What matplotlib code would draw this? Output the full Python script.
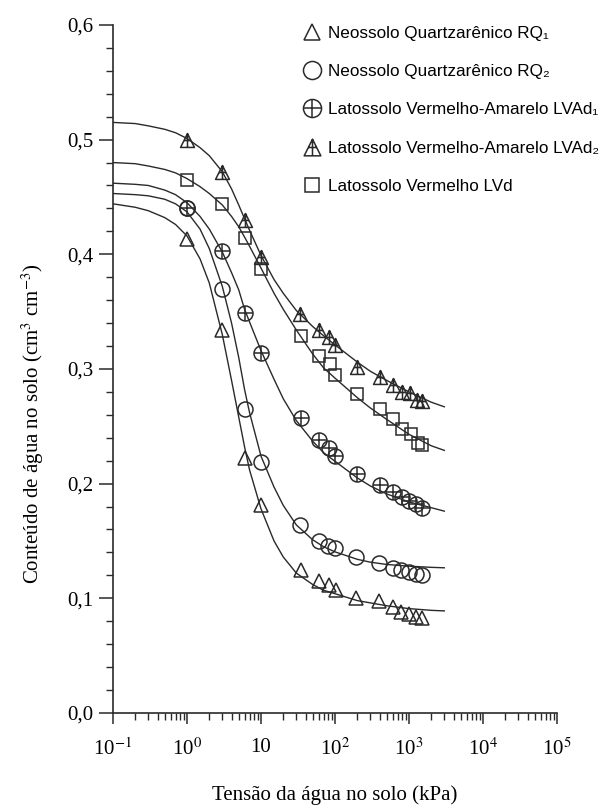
import matplotlib
matplotlib.use('Agg')
import matplotlib.pyplot as plt
from matplotlib.lines import Line2D
from matplotlib.path import Path

# valores
curve_kpa = [0.1, 0.2, 0.3, 0.5, 0.7, 1, 1.5, 2, 3, 4, 5, 6, 7, 10, 15, 20, 30,
             50, 70, 100, 200, 300, 500, 1000, 2000, 3000]

rq1_curve = [0.444, 0.441, 0.438, 0.432, 0.426, 0.416, 0.396, 0.375, 0.330, 0.290,
             0.258, 0.232, 0.212, 0.178, 0.150, 0.136, 0.122, 0.112, 0.107, 0.104,
             0.098, 0.096, 0.0935, 0.091, 0.0895, 0.089]
rq2_curve = [0.453, 0.452, 0.451, 0.448, 0.444, 0.437, 0.422, 0.405, 0.372, 0.340,
             0.310, 0.282, 0.262, 0.224, 0.197, 0.181, 0.164, 0.151, 0.145, 0.1405,
             0.134, 0.1315, 0.1295, 0.128, 0.127, 0.1266]
lvad1_curve = [0.462, 0.461, 0.460, 0.456, 0.452, 0.445, 0.433, 0.422, 0.402, 0.384,
               0.369, 0.352, 0.341, 0.316, 0.291, 0.274, 0.255, 0.237, 0.227, 0.2195,
               0.205, 0.198, 0.191, 0.184, 0.179, 0.176]
lvad2_curve = [0.515, 0.514, 0.512, 0.509, 0.506, 0.501, 0.493, 0.486, 0.472, 0.457,
               0.443, 0.431, 0.421, 0.399, 0.378, 0.366, 0.351, 0.337, 0.329, 0.321,
               0.306, 0.298, 0.290, 0.280, 0.271, 0.267]
lvd_curve = [0.480, 0.479, 0.477, 0.474, 0.471, 0.466, 0.459, 0.453, 0.443, 0.433,
             0.424, 0.415, 0.407, 0.388, 0.366, 0.352, 0.334, 0.313, 0.301, 0.292,
             0.275, 0.266, 0.256, 0.243, 0.233, 0.229]

rq1_x = [1, 3, 6, 10, 35, 60, 84, 102, 195, 398, 603, 777, 1000, 1245, 1480]
rq1_y = [0.413, 0.334, 0.222, 0.181, 0.125, 0.115, 0.1115, 0.107, 0.100, 0.098,
         0.092, 0.088, 0.0865, 0.084, 0.0825]
rq2_x = [1, 3, 6, 10, 34, 60, 81, 101, 195, 398, 603, 777, 1000, 1245, 1480]
rq2_y = [0.440, 0.370, 0.265, 0.219, 0.164, 0.150, 0.146, 0.144, 0.136, 0.131,
         0.1266, 0.1246, 0.1228, 0.121, 0.120]
lvad1_x = [1, 3, 6, 10, 35, 61, 83, 100, 197, 406, 612, 800, 1000, 1250, 1500]
lvad1_y = [0.440, 0.4025, 0.349, 0.314, 0.257, 0.238, 0.231, 0.224, 0.208, 0.199,
           0.193, 0.188, 0.185, 0.182, 0.179]
lvad2_x = [1, 3, 6, 10, 34, 60, 82, 100, 197, 406, 612, 797, 1040, 1265, 1520]
lvad2_y = [0.500, 0.472, 0.430, 0.398, 0.348, 0.334, 0.3275, 0.3206, 0.302, 0.2927,
           0.286, 0.280, 0.279, 0.273, 0.272]
lvd_x = [1, 3, 6, 10, 35, 61, 85, 101, 197, 406, 612, 815, 1050, 1330, 1520]
lvd_y = [0.465, 0.444, 0.4146, 0.387, 0.329, 0.311, 0.304, 0.295, 0.278, 0.2654,
         0.256, 0.2477, 0.2433, 0.2355, 0.2335]

labels = ['Neossolo Quartzarênico RQ₁', 'Neossolo Quartzarênico RQ₂',
          'Latossolo Vermelho-Amarelo LVAd₁', 'Latossolo Vermelho-Amarelo LVAd₂',
          'Latossolo Vermelho LVd']

xticks = [0.1, 1, 10, 100, 1000, 10000, 100000]
xticklabels = ['10$^{-1}$', '10$^{0}$', '10', '10$^{2}$', '10$^{3}$', '10$^{4}$', '10$^{5}$']
yticks = [0.0, 0.1, 0.2, 0.3, 0.4, 0.5, 0.6]
yticklabels = ['0,0', '0,1', '0,2', '0,3', '0,4', '0,5', '0,6']

plt.rcParams['font.family'] = ['Liberation Serif', 'DejaVu Serif']
plt.rcParams['mathtext.fontset'] = 'stix'

# triangulo com cruz
tri_cross = Path([(0, 1), (-1, -1), (1, -1), (0, 1), (0, 1), (0, -1), (-0.5, 0), (0.5, 0)],
                 [Path.MOVETO, Path.LINETO, Path.LINETO, Path.CLOSEPOLY,
                  Path.MOVETO, Path.LINETO, Path.MOVETO, Path.LINETO])

fig = plt.figure(figsize=(6.03, 8.10), dpi=100)
ax = fig.add_axes([0.1874, 0.1198, 0.7363, 0.8494])

ink = '#2a2a2a'
ax.plot(curve_kpa, rq1_curve, color=ink, lw=1.0)
ax.plot(curve_kpa, rq2_curve, color=ink, lw=1.0)
ax.plot(curve_kpa, lvad1_curve, color=ink, lw=1.0)
ax.plot(curve_kpa, lvad2_curve, color=ink, lw=1.0)
ax.plot(curve_kpa, lvd_curve, color=ink, lw=1.0)

mk = dict(ls='none', mfc='none', mec=ink, mew=1.1)
ax.plot(rq1_x, rq1_y, marker='^', ms=10, **mk)
ax.plot(rq2_x, rq2_y, marker='o', ms=10.8, **mk)
ax.plot(lvad1_x, lvad1_y, marker='o', ms=10.8, **mk)
ax.plot(lvad1_x, lvad1_y, marker='+', ms=10.8, **mk)
ax.plot(lvad2_x, lvad2_y, marker=tri_cross, ms=10, **mk)
ax.plot(lvd_x, lvd_y, marker='s', ms=8, **mk)

ax.set_xscale('log')
ax.set_xlim(0.1, 100000)
ax.set_ylim(0, 0.6)
ax.set_xticks(xticks)
ax.set_xticklabels(xticklabels)
ax.set_yticks(yticks)
ax.set_yticklabels(yticklabels)
ax.set_yticks([i * 0.02 for i in range(31)], minor=True)

for s in ['top', 'right']:
    ax.spines[s].set_visible(False)
for s in ['left', 'bottom']:
    ax.spines[s].set_color(ink)
    ax.spines[s].set_linewidth(1.2)

ax.tick_params(axis='both', which='major', direction='out', length=10, width=1.1,
               color=ink, labelsize=15, pad=4)
ax.tick_params(axis='both', which='minor', direction='out', length=5, width=1.0, color=ink)
ax.tick_params(axis='x', which='major', length=8, pad=10)
ax.tick_params(axis='x', which='minor', length=5)

ax.set_xlabel('Tensão da água no solo (kPa)', fontsize=15)
ax.xaxis.set_label_coords(0.5, -0.105)
ax.set_ylabel('Conteúdo de água no solo (cm$^3$ cm$^{-3}$)', fontsize=15)
ax.yaxis.set_label_coords(-0.15, 0.42)

# legenda
h1 = Line2D([], [], marker='^', ms=12, **mk)
h2 = Line2D([], [], marker='o', ms=13, **mk)
h3 = (Line2D([], [], marker='o', ms=13, **mk), Line2D([], [], marker='+', ms=13, **mk))
h4 = Line2D([], [], marker=tri_cross, ms=12, **mk)
h5 = Line2D([], [], marker='s', ms=9.5, **mk)
leg = ax.legend([h1, h2, h3, h4, h5], labels, loc='upper left',
                bbox_to_anchor=(301 / 603, 1 - 26 / 810), bbox_transform=fig.transFigure,
                frameon=False, borderpad=0, borderaxespad=0, handlelength=1.3,
                handletextpad=0.3, labelspacing=1.36,
                prop={'family': ['Liberation Sans', 'DejaVu Sans'], 'size': 12.3})

fig.savefig('out.png', dpi=100)
